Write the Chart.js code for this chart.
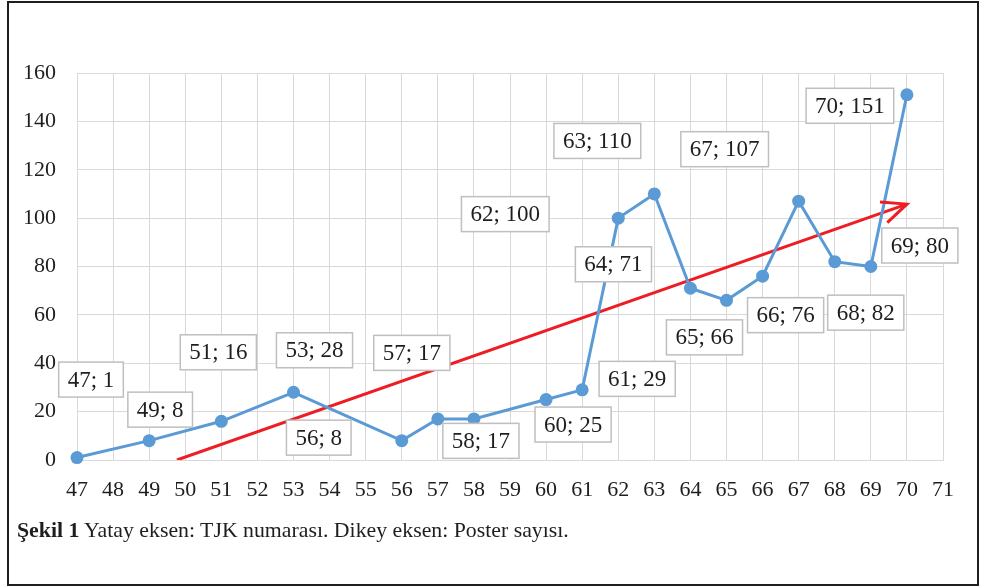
<!DOCTYPE html>
<html>
<head>
<meta charset="utf-8">
<script src="https://cdn.jsdelivr.net/npm/chart.js@4.4.1/dist/chart.umd.min.js"></script>
<style>
  html, body { margin: 0; padding: 0; background: #fff; }
  #wrap { position: relative; width: 983px; height: 586px; overflow: hidden; }
  #c { position: absolute; left: 0; top: 0; }
  #frame { position: absolute; left: 7px; top: 1px; width: 972px; height: 585px; border: 2.5px solid #1e1e1e; box-sizing: border-box; pointer-events: none; }
  #caption { position: absolute; left: 17px; top: 520px; font-family: "Liberation Serif", "Times New Roman", serif; font-size: 21.8px; line-height: 21.8px; color: #1e1e1e; white-space: nowrap; }
</style>
</head>
<body>
<div id="wrap">
  <canvas id="c" width="983" height="586"></canvas>
  <div id="frame"></div>
  <div id="caption"><b>Şekil 1</b> Yatay eksen: TJK numarası. Dikey eksen: Poster sayısı.</div>
</div>
<script>
// TJK number (x) and poster count (y)
const tjkNumbers = [47, 49, 51, 53, 56, 57, 58, 60, 61, 62, 63, 64, 65, 66, 67, 68, 69, 70];
const posterCounts = [1, 8, 16, 28, 8, 17, 17, 25, 29, 100, 110, 71, 66, 76, 107, 82, 80, 151];
// Trend line end points
const trendX = [49.77, 70];
const trendY = [0, 105.8];
// Axis range
const xMin = 47, xMax = 71;
const yMin = 0, yMax = 160, yStep = 20;

// Label box offsets (pixels from the point), as placed in the original
const labelOffsets = [
  [14, -78], [11, -31], [-3, -69], [21, -42], [-83, -3], [-26, -66], [7, 22], [27, 25],
  [55, -11], [-113, -4], [-57, -53], [-77, -24], [-22, 37], [23, 39], [-74, -52],
  [31, 51], [49, -21], [-57, 11]
];

const FONT = '"Liberation Serif", "Times New Roman", serif';
const BLUE = '#5b9bd5';
const RED = '#ee1d23';
const GRID = '#d9d9d9';

const mainPoints = tjkNumbers.map((x, i) => ({ x: x, y: posterCounts[i] }));
const trendPoints = trendX.map((x, i) => ({ x: x, y: trendY[i] }));

const labelPlugin = {
  id: 'boxLabels',
  afterDatasetsDraw(chart) {
    const ctx = chart.ctx;
    const xs = chart.scales.x, ys = chart.scales.y;
    // arrow head on trend line
    const tx0 = xs.getPixelForValue(trendX[0]), ty0 = ys.getPixelForValue(trendY[0]);
    const tx1 = xs.getPixelForValue(trendX[1]), ty1 = ys.getPixelForValue(trendY[1]);
    const ang = Math.atan2(ty1 - ty0, tx1 - tx0);
    const L = 27, half = 24 * Math.PI / 180;
    ctx.save();
    ctx.strokeStyle = RED;
    ctx.lineWidth = 3;
    ctx.lineCap = 'butt';
    ctx.lineJoin = 'miter';
    ctx.beginPath();
    ctx.moveTo(tx1 - L * Math.cos(ang - half), ty1 - L * Math.sin(ang - half));
    ctx.lineTo(tx1, ty1);
    ctx.lineTo(tx1 - L * Math.cos(ang + half), ty1 - L * Math.sin(ang + half));
    ctx.stroke();
    ctx.restore();

    // data labels
    ctx.save();
    ctx.font = '23px ' + FONT;
    ctx.textAlign = 'center';
    ctx.textBaseline = 'middle';
    tjkNumbers.forEach((xv, i) => {
      const px = xs.getPixelForValue(xv);
      const py = ys.getPixelForValue(posterCounts[i]);
      const cx = px + labelOffsets[i][0];
      const cy = py + labelOffsets[i][1];
      const text = xv + '; ' + posterCounts[i];
      const w = ctx.measureText(text).width + 18;
      const h = 35;
      ctx.fillStyle = '#ffffff';
      ctx.fillRect(cx - w / 2, cy - h / 2, w, h);
      ctx.strokeStyle = '#bfbfbf';
      ctx.lineWidth = 1.5;
      ctx.strokeRect(cx - w / 2, cy - h / 2, w, h);
      ctx.fillStyle = '#1e1e1e';
      ctx.fillText(text, cx, cy + 1);
    });
    ctx.restore();
  }
};

new Chart(document.getElementById('c'), {
  type: 'line',
  data: {
    datasets: [
      {
        data: trendPoints,
        borderColor: RED,
        borderWidth: 3,
        pointRadius: 0,
        fill: false,
        tension: 0,
        order: 2
      },
      {
        data: mainPoints,
        borderColor: BLUE,
        backgroundColor: BLUE,
        borderWidth: 3,
        pointRadius: 6.5,
        pointBorderWidth: 0,
        pointBackgroundColor: BLUE,
        fill: false,
        tension: 0,
        clip: false,
        order: 1
      }
    ]
  },
  options: {
    responsive: false,
    devicePixelRatio: 1,
    animation: false,
    events: [],
    layout: { padding: { left: 0, right: 40, top: 73, bottom: 0 } },
    plugins: { legend: { display: false }, tooltip: { enabled: false } },
    scales: {
      x: {
        type: 'linear',
        min: xMin,
        max: xMax,
        afterFit(scale) { scale.height = 126; },
        grid: { color: GRID, lineWidth: 1, drawTicks: false },
        border: { color: GRID, width: 1 },
        ticks: {
          stepSize: 1,
          autoSkip: false,
          maxRotation: 0,
          padding: 17,
          color: '#1e1e1e',
          font: { family: FONT, size: 22 }
        }
      },
      y: {
        min: yMin,
        max: yMax,
        afterFit(scale) { scale.width = 77; },
        grid: { color: GRID, lineWidth: 1, drawTicks: false },
        border: { color: GRID, width: 1 },
        ticks: {
          stepSize: yStep,
          padding: 21,
          color: '#1e1e1e',
          font: { family: FONT, size: 22 }
        }
      }
    }
  },
  plugins: [labelPlugin]
});
</script>
</body>
</html>
